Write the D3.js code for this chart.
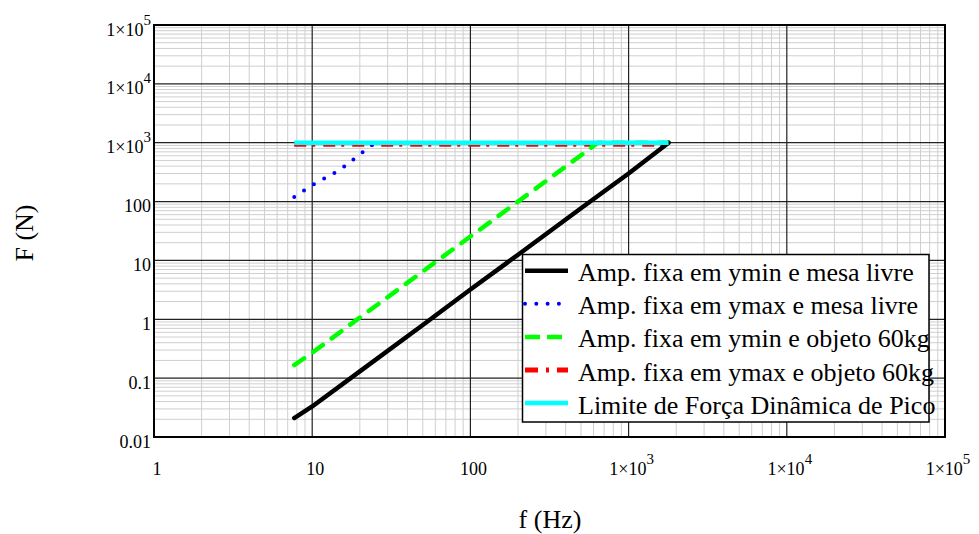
<!DOCTYPE html>
<html>
<head>
<meta charset="utf-8">
<script src="https://cdn.jsdelivr.net/npm/d3@7"></script>
<style>
  html, body { margin: 0; padding: 0; background: #fff; }
  svg { display: block; font-family: "Liberation Serif", "Times New Roman", serif; }
</style>
</head>
<body>
<svg id="chart" width="979" height="534"></svg>
<script>
// Frequency (Hz) and force (N) for each curve
const blackFreq = [7.7, 10, 20, 50, 100, 200, 500, 1000, 1790];
const blackForce = [0.021, 0.033, 0.13, 0.8, 3.2, 12.5, 77, 300, 1000];

const blueFreq = [7.7, 10, 15, 21.6, 25, 1790];
const blueForce = [120, 190, 346, 747, 1000, 1000];

const greenFreq = [7.7, 10, 20, 50, 100, 200, 500, 637, 1790];
const greenForce = [0.167, 0.27, 1.07, 6.5, 25.5, 100, 611, 1000, 1000];

const redFreq = [7.7, 1790];
const redForce = [940, 940];

const cyanFreq = [7.7, 1790];
const cyanForce = [1000, 1000];

const seriesNames = [
  "Amp. fixa em ymin e mesa livre",
  "Amp. fixa em ymax e mesa livre",
  "Amp. fixa em ymin e objeto 60kg",
  "Amp. fixa em ymax e objeto 60kg",
  "Limite de Força Dinâmica de Pico"
];

const xTickValues = [1, 10, 100, 1000, 10000, 100000];
const xTickLabels = ["1", "10", "100", "1×10^3", "1×10^4", "1×10^5"];
const yTickValues = [0.01, 0.1, 1, 10, 100, 1000, 10000, 100000];
const yTickLabels = ["0.01", "0.1", "1", "10", "100", "1×10^3", "1×10^4", "1×10^5"];

const xTitle = "f (Hz)";
const yTitle = "F (N)";

// ---- layout ----
const svg = d3.select("#chart");
const plot = { left: 154, right: 945, top: 25, bottom: 437 };

const x = d3.scaleLog().domain([1, 100000]).range([plot.left, plot.right]);
const y = d3.scaleLog().domain([0.01, 100000]).range([plot.bottom, plot.top]);

// minor grid values (2..9 within each decade)
function minors(lo, hi) {
  const out = [];
  for (let e = Math.log10(lo); e < Math.log10(hi); e++) {
    for (let m = 2; m <= 9; m++) out.push(m * Math.pow(10, e));
  }
  return out;
}

const grid = svg.append("g");
grid.selectAll(".vminor").data(minors(1, 100000)).join("line")
  .attr("x1", d => x(d)).attr("x2", d => x(d))
  .attr("y1", plot.top).attr("y2", plot.bottom)
  .attr("stroke", "#cfcfcf").attr("stroke-width", 1);
grid.selectAll(".hminor").data(minors(0.01, 100000)).join("line")
  .attr("y1", d => y(d)).attr("y2", d => y(d))
  .attr("x1", plot.left).attr("x2", plot.right)
  .attr("stroke", "#cfcfcf").attr("stroke-width", 1);
grid.selectAll(".vmajor").data(xTickValues).join("line")
  .attr("x1", d => x(d)).attr("x2", d => x(d))
  .attr("y1", plot.top).attr("y2", plot.bottom)
  .attr("stroke", "#222").attr("stroke-width", 1.2);
grid.selectAll(".hmajor").data(yTickValues).join("line")
  .attr("y1", d => y(d)).attr("y2", d => y(d))
  .attr("x1", plot.left).attr("x2", plot.right)
  .attr("stroke", "#222").attr("stroke-width", 1.2);

// ---- curves ----
const line = d3.line().x(d => x(d[0])).y(d => y(d[1]));
const zipPts = (f, F) => f.map((v, i) => [v, F[i]]);

const styles = [
  { color: "#000000", width: 4.5, dash: null, cap: "round", legendDash: null },
  { color: "#0000ff", width: 4, dash: "0,11.7", cap: "round", legendDash: "0,11.3" },
  { color: "#00ff00", width: 4.5, dash: "12,11", cap: "round", legendDash: "15,7" },
  { color: "#ff0000", width: 5, dash: "12,6,3,8", cap: "butt", legendDash: "13,8,3,8" },
  { color: "#00ffff", width: 4.5, dash: null, cap: "butt", legendDash: null }
];

const curves = [
  zipPts(blackFreq, blackForce),
  zipPts(blueFreq, blueForce),
  zipPts(greenFreq, greenForce),
  zipPts(redFreq, redForce),
  zipPts(cyanFreq, cyanForce)
];

const drawOrder = [3, 2, 1, 0, 4];
const curveG = svg.append("g");
drawOrder.forEach(i => {
  const s = styles[i];
  curveG.append("path")
    .attr("d", line(curves[i]))
    .attr("fill", "none")
    .attr("stroke", s.color)
    .attr("stroke-width", s.width)
    .attr("stroke-linecap", s.cap)
    .attr("stroke-linejoin", "round")
    .attr("stroke-dasharray", s.dash);
});

// ---- frame ----
svg.append("rect")
  .attr("x", plot.left).attr("y", plot.top)
  .attr("width", plot.right - plot.left).attr("height", plot.bottom - plot.top)
  .attr("fill", "none").attr("stroke", "#000").attr("stroke-width", 2);

// ---- tick labels with superscript exponent ----
function writeLabel(sel, label) {
  const parts = label.split("^");
  sel.append("tspan").text(parts[0]);
  if (parts.length > 1) {
    sel.append("tspan").attr("font-size", 15).attr("dy", -11).text(parts[1]);
  }
}

const xLab = svg.append("g").attr("font-size", 18).attr("fill", "#000");
xTickValues.forEach((v, i) => {
  const t = xLab.append("text")
    .attr("x", x(v) + 3).attr("y", 475)
    .attr("text-anchor", "middle");
  writeLabel(t, xTickLabels[i]);
});

const yLab = svg.append("g").attr("font-size", 18).attr("fill", "#000");
yTickValues.forEach((v, i) => {
  const t = yLab.append("text")
    .attr("x", 151).attr("y", y(v) + 10.5)
    .attr("text-anchor", "end");
  writeLabel(t, yTickLabels[i]);
});

// ---- axis titles ----
svg.append("text")
  .attr("x", 550).attr("y", 528)
  .attr("text-anchor", "middle").attr("font-size", 26)
  .text(xTitle);
svg.append("text")
  .attr("transform", "translate(33,233) rotate(-90)")
  .attr("text-anchor", "middle").attr("font-size", 26)
  .text(yTitle);

// ---- legend ----
const lg = svg.append("g");
lg.append("rect")
  .attr("x", 522.5).attr("y", 254.5).attr("width", 406.5).attr("height", 167.5)
  .attr("fill", "#fff").attr("stroke", "#000").attr("stroke-width", 1.5);
seriesNames.forEach((name, i) => {
  const cy = 270.7 + i * 33.1;
  const s = styles[i];
  lg.append("line")
    .attr("x1", 525).attr("x2", 568).attr("y1", cy).attr("y2", cy)
    .attr("stroke", s.color).attr("stroke-width", s.width)
    .attr("stroke-linecap", i === 1 ? "round" : "butt")
    .attr("stroke-dasharray", s.legendDash);
  lg.append("text")
    .attr("x", 578).attr("y", cy + 10.5)
    .attr("font-size", 26).attr("fill", "#000")
    .text(name);
});
</script>
</body>
</html>
